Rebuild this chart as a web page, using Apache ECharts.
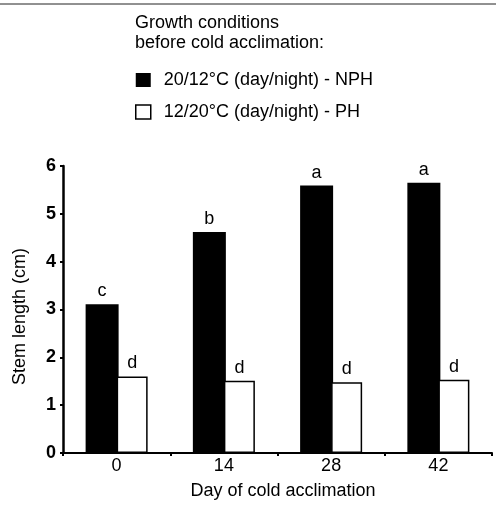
<!DOCTYPE html>
<html>
<head>
<meta charset="utf-8">
<script src="https://cdn.jsdelivr.net/npm/echarts@6/dist/echarts.min.js"></script>
<style>
html,body{margin:0;padding:0;background:#fff;}
#chart{width:496px;height:506px;}
</style>
</head>
<body>
<div id="chart"></div>
<script>
var categories = ['0', '14', '28', '42'];
var nphValues = [3.11, 4.62, 5.59, 5.65];
var phValues = [1.60, 1.51, 1.48, 1.53];
var nphLetters = ['c', 'b', 'a', 'a'];
var phLetters = ['d', 'd', 'd', 'd'];
var seriesNames = ['20/12°C (day/night) - NPH', '12/20°C (day/night) - PH'];
var legendTitle = 'Growth conditions\nbefore cold acclimation:';
var yTicks = [0, 1, 2, 3, 4, 5, 6];

var FONT = '"Liberation Sans", Arial, Helvetica, sans-serif';
var FS = 18;
var chart = echarts.init(document.getElementById('chart'), null, {renderer: 'canvas'});
chart.setOption({
  backgroundColor: '#fff',
  animation: false,
  textStyle: {fontFamily: FONT, color: '#000'},
  title: {
    text: legendTitle,
    left: 130, top: 8,
    textStyle: {fontFamily: FONT, fontSize: FS, fontWeight: 'normal', color: '#000', lineHeight: 20}
  },
  legend: {
    orient: 'vertical',
    left: 130, top: 66,
    itemWidth: 15, itemHeight: 14,
    itemGap: 14,
    textStyle: {fontFamily: FONT, fontSize: FS, color: '#000', padding: [0, 0, 0, 8]},
    data: [
      {name: seriesNames[0], icon: 'rect', itemStyle: {color: '#000', borderWidth: 0}},
      {name: seriesNames[1], icon: 'rect', itemStyle: {color: '#fff', borderColor: '#000', borderWidth: 1.5}}
    ]
  },
  graphic: [
    {type: 'line', shape: {x1: 0, y1: 4, x2: 496, y2: 4}, style: {stroke: '#222', lineWidth: 1}, silent: true}
  ],
  grid: {left: 63, right: 4, top: 166, bottom: 53},
  xAxis: {
    type: 'category',
    data: categories,
    name: 'Day of cold acclimation',
    nameLocation: 'middle',
    nameGap: 29,
    nameTextStyle: {fontFamily: FONT, fontSize: FS, color: '#000', padding: [0, 0, 0, 11]},
    axisLine: {lineStyle: {color: '#000', width: 2}},
    axisTick: {show: true, alignWithLabel: false, length: 3, lineStyle: {color: '#000', width: 2}},
    axisLabel: {fontFamily: FONT, fontSize: FS, color: '#000', margin: 4}
  },
  yAxis: {
    type: 'value',
    min: yTicks[0], max: yTicks[yTicks.length - 1], interval: 1,
    name: 'Stem length (cm)',
    nameLocation: 'middle',
    nameGap: 34,
    nameTextStyle: {fontFamily: FONT, fontSize: FS, color: '#000', padding: [0, 14, 0, 0]},
    axisLine: {show: true, lineStyle: {color: '#000', width: 2.5}},
    axisTick: {show: true, length: 3, lineStyle: {color: '#000', width: 2}},
    axisLabel: {fontFamily: FONT, fontSize: FS, fontWeight: 'bold', color: '#000', margin: 7},
    splitLine: {show: false}
  },
  series: [
    {
      name: seriesNames[0], type: 'bar', data: nphValues,
      barWidth: 33, barGap: '-6%',
      itemStyle: {color: '#000'},
      label: {show: true, position: 'top', distance: 4, fontFamily: FONT, fontSize: FS, color: '#000',
        formatter: function (p) { return nphLetters[p.dataIndex]; }}
    },
    {
      name: seriesNames[1], type: 'bar', data: phValues,
      barWidth: 31,
      itemStyle: {color: '#fff', borderColor: '#000', borderWidth: 1.5},
      label: {show: true, position: 'top', distance: 4, fontFamily: FONT, fontSize: FS, color: '#000',
        formatter: function (p) { return phLetters[p.dataIndex]; }}
    }
  ]
});
</script>
</body>
</html>
